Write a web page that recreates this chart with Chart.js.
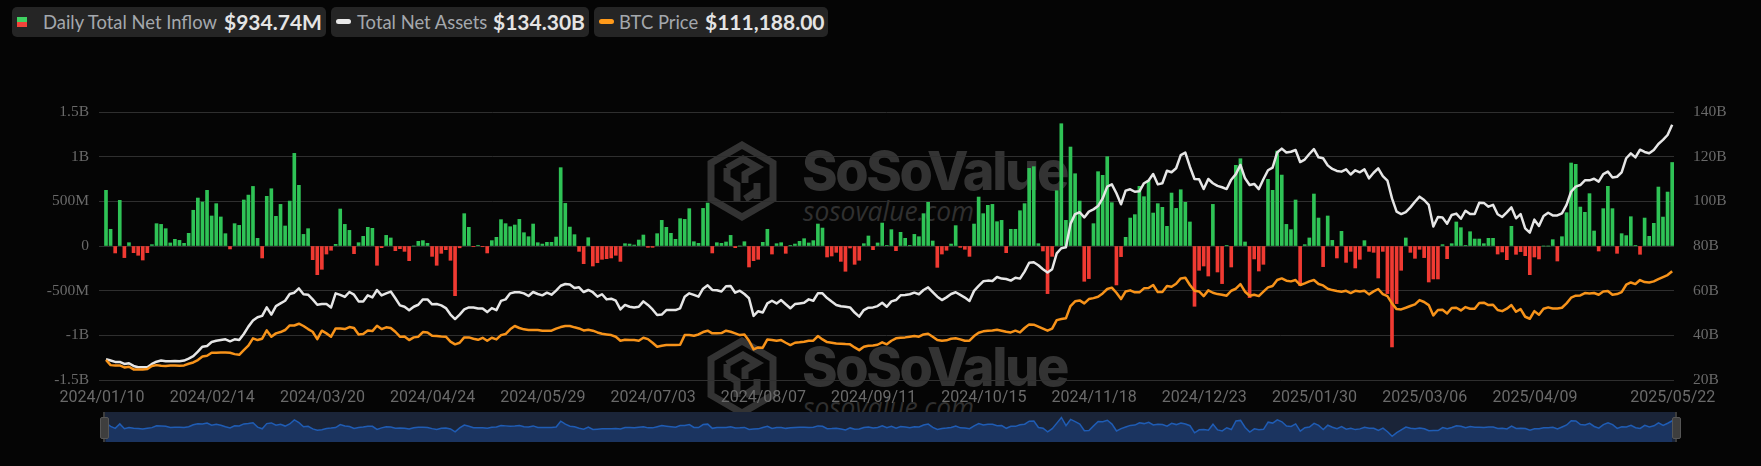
<!DOCTYPE html>
<html>
<head>
<meta charset="utf-8">
<title>Daily Total Net Inflow</title>
<script src="https://cdn.jsdelivr.net/npm/chart.js@4"></script>
<style>
html, body { margin: 0; padding: 0; background: #050505; overflow: hidden; }
#page { position: relative; width: 1761px; height: 466px; }
#main { position: absolute; left: 0; top: 0; z-index: 1; }
#mini { position: absolute; left: 104px; top: 412px; z-index: 2; background: #1a2438; }
.pill { position: absolute; top: 7px; height: 30px; background: #252525; border-radius: 5px; z-index: 3;
  font-family: Lato, sans-serif; font-size: 18.4px; line-height: 30px; color: #a4a8ad; white-space: nowrap; }
.pill span { position: absolute; top: 0; }
.pill b { position: absolute; top: 0; font-size: 21px; font-weight: 700; color: #e4e4e4; }
.dash { position: absolute; top: 12px; width: 15px; height: 5px; border-radius: 3px; }
.mark { position: absolute; z-index: 0; color: #333; left: 0; width: 1100px; height: 100px; }
.mark svg { position: absolute; left: 707px; top: 0; }
.mark .big { position: absolute; left: 802px; top: 0; font: 800 54px Inter, sans-serif; letter-spacing: -2.4px; line-height: 60px; }
.mark .small { position: absolute; left: 803px; top: 55px; font: italic 400 26.4px "Open Sans", sans-serif; line-height: 30px; color: #303030; }
.stem { position: absolute; top: 412px; width: 2px; height: 30px; background: #3c3c3c; z-index: 3; }
.grip { position: absolute; top: 417px; width: 7px; height: 20px; background: #3e3e3e; border: 1px solid #555; border-radius: 2px; z-index: 3; }
</style>
</head>
<body>
<div id="page">
  <div class="mark" style="top:141px">
    <svg width="70" height="80" viewBox="0 0 70 80"><g fill="none" stroke="#333" stroke-width="7"><path d="M35 4 L66 22 V58 L35 76 L4 58 V22 Z"/><path d="M20 27 L36 18 L50 26 L38 33 V42 M20 27 V38 L30 44 V60 M50 42 V58 M38 58 L50 50"/></g></svg>
    <div class="big">SoSoValue</div>
    <div class="small">sosovalue.com</div>
  </div>
  <div class="mark" style="top:337px">
    <svg width="70" height="80" viewBox="0 0 70 80"><g fill="none" stroke="#333" stroke-width="7"><path d="M35 4 L66 22 V58 L35 76 L4 58 V22 Z"/><path d="M20 27 L36 18 L50 26 L38 33 V42 M20 27 V38 L30 44 V60 M50 42 V58 M38 58 L50 50"/></g></svg>
    <div class="big">SoSoValue</div>
    <div class="small">sosovalue.com</div>
  </div>

  <canvas id="main" width="1761" height="466"></canvas>
  <canvas id="mini" width="1572" height="30"></canvas>

  <div class="stem" style="left:103px"></div>
  <div class="grip" style="left:100px"></div>
  <div class="stem" style="left:1675px"></div>
  <div class="grip" style="left:1672px"></div>

  <div class="pill" style="left:12px;width:314px">
    <div style="position:absolute;left:5px;top:10px;width:10px;height:5px;background:#3fd262"></div>
    <div style="position:absolute;left:5px;top:15px;width:10px;height:5px;background:#f2433a"></div>
    <span style="left:31px">Daily Total Net Inflow</span><b style="left:212px">$934.74M</b>
  </div>
  <div class="pill" style="left:331px;width:258px">
    <div class="dash" style="left:5px;background:#e8e8e8"></div>
    <span style="left:26px">Total Net Assets</span><b style="left:162px">$134.30B</b>
  </div>
  <div class="pill" style="left:594px;width:234px">
    <div class="dash" style="left:5px;background:#ff9a1a"></div>
    <span style="left:25px">BTC Price</span><b style="left:111px">$111,188.00</b>
  </div>
</div>

<script>
// Daily net inflow, $M, one per trading day
const netInflow = [
  623, 187, -78, 511, -130, 37, -75, -104, -157, -75, 15, 250, 242, 194, 34, 75, 63, 30, 142, 400,
  537, 492, 623, 336, 474, 325, 138, -33, 250, 231, 515, 570, 667, 86, -134, 556, 641, 332, 466, 224,
  503, 1037, 679, 130, 194, -153, -321, -261, -90, -48, 19, 414, 242, 175, -86, 37, 108, 209, 198, -216,
  -19, 119, 90, -52, -30, -60, -164, 0, 52, 60, 30, -116, -216, -82, -41, -160, -556, -20, 362, 209,
  -8, 8, -8, -78, 60, 97, 295, 250, 216, 235, 298, 149, 104, 246, 37, 22, 41, 41, 100, 877,
  477, 212, 127, -60, -198, 93, -224, -187, -149, -142, -134, -104, -172, 26, 22, 11, 67, 123, -15, -15,
  138, 287, 209, 142, 75, 306, 298, 418, 48, 30, 421, 481, -78, 37, 30, 45, 119, -19, 0, 48,
  -235, -164, -149, 41, 187, -90, 26, 37, -82, 4, 22, 52, 82, 34, 60, 246, 201, -123, -112, -71,
  -172, -283, -22, -205, -160, 26, 112, -41, 34, 257, 7, 183, -52, 153, 86, 4, 130, 104, 362, 489,
  56, -239, -90, -48, 22, 228, -15, -37, -116, 246, 548, 362, 455, 466, 272, 287, -75, 187, 187, 395,
  474, 869, 888, 26, -56, -533, -116, 619, 1369, 287, 1108, 809, 503, -395, -365, 250, 832, 791, 1000, 485,
  -436, -119, 97, 313, 351, 668, 552, 735, 369, 474, 433, 220, 593, 421, 630, 489, 269, -675, -272, -224,
  -336, 466, -291, -421, 4, -235, 903, 977, 45, -578, -145, -280, -205, 746, 623, 1063, 794, 242, 183, 515,
  -444, 15, 90, 582, 313, -231, 336, 63, -134, 164, -183, -60, -246, -149, 60, -60, -71, -358, -60, -533,
  -1130, -645, -272, 90, -71, -138, -37, -130, -403, -369, -369, 15, -142, 26, 269, 205, 7, 160, 78, 78,
  26, 86, 86, -90, -67, -153, 220, -93, -63, -108, -321, -123, -145, 0, 0, 71, -168, 104, 373, 929,
  914, 436, 377, 586, 168, -56, 418, 668, 418, -82, 138, 116, 328, 4, -93, 313, 108, 254, 660, 324,
  604, 934.74
];

// Total net assets, $B
const totalNetAssets = [
  29.3, 28.7, 28.1, 28.1, 27.2, 27.5, 26.3, 25.7, 25.7, 25.7, 27.2, 28.2, 28.7, 28.4, 28.4, 28.5, 28.4, 28.7, 29.6, 30.7,
  32.7, 34.9, 35.2, 37.0, 37.6, 37.9, 38.2, 37.3, 38.2, 37.9, 40.6, 43.9, 46.6, 48.1, 48.7, 52.5, 49.3, 53.1, 54.3, 55.5,
  58.5, 59.1, 61.0, 58.4, 58.2, 56.1, 53.7, 54.0, 54.0, 52.5, 58.8, 58.1, 57.2, 59.4, 58.2, 55.2, 55.2, 57.9, 57.0, 60.3,
  57.9, 58.8, 59.6, 56.6, 53.4, 52.8, 51.2, 52.8, 53.7, 56.1, 56.1, 53.9, 54.0, 53.4, 52.2, 49.3, 47.3, 49.3, 51.6, 52.5,
  52.5, 52.0, 52.0, 50.4, 52.2, 51.3, 55.4, 56.1, 58.8, 59.3, 59.3, 58.8, 57.6, 59.4, 58.5, 57.9, 59.1, 58.2, 60.0, 62.2,
  63.0, 62.8, 61.2, 61.5, 59.4, 60.3, 59.3, 57.3, 58.4, 56.1, 56.4, 55.5, 51.6, 53.6, 52.8, 52.5, 52.8, 55.2, 53.6, 51.6,
  49.1, 49.3, 51.3, 51.3, 51.3, 52.1, 57.3, 58.8, 58.1, 57.3, 60.9, 62.4, 60.3, 60.2, 59.6, 62.0, 62.1, 59.1, 60.0, 58.5,
  56.6, 48.7, 50.8, 50.2, 54.3, 55.5, 54.3, 55.8, 53.9, 52.1, 54.0, 54.3, 54.6, 56.1, 55.5, 58.8, 58.8, 56.7, 55.1, 53.6,
  53.0, 52.8, 52.5, 50.2, 48.4, 51.3, 52.4, 52.5, 53.1, 54.6, 52.8, 55.2, 55.8, 57.9, 58.1, 58.4, 59.1, 58.4, 60.3, 61.5,
  59.4, 57.3, 55.8, 57.0, 58.5, 59.3, 58.1, 56.9, 55.4, 59.9, 62.1, 64.2, 64.5, 64.3, 66.1, 65.4, 65.2, 64.5, 65.8, 65.4,
  68.5, 72.5, 72.7, 71.4, 69.6, 68.1, 69.6, 76.7, 79.0, 79.4, 89.9, 94.3, 95.1, 92.8, 95.4, 96.4, 97.9, 101.3, 106.6, 107.6,
  103.6, 98.7, 104.8, 105.4, 104.3, 104.5, 108.1, 109.3, 112.2, 107.6, 108.1, 113.7, 113.0, 114.8, 120.7, 121.8, 115.5, 110.0, 109.9, 105.5,
  110.0, 108.1, 106.9, 106.3, 105.5, 109.7, 112.2, 116.3, 110.3, 107.3, 107.8, 105.5, 109.9, 113.9, 115.1, 121.9, 123.6, 121.9, 122.2, 123.0,
  117.6, 118.7, 121.2, 123.4, 119.7, 119.3, 116.1, 114.5, 113.6, 113.3, 114.3, 112.0, 113.9, 113.0, 114.3, 110.3, 112.8, 114.8, 111.3, 109.3,
  101.3, 95.4, 94.3, 95.2, 97.3, 99.8, 102.1, 100.6, 98.4, 88.7, 93.0, 92.8, 90.0, 93.9, 94.5, 92.2, 95.8, 94.3, 94.3, 99.4,
  99.3, 97.6, 98.4, 94.2, 93.0, 95.1, 97.3, 92.4, 94.3, 87.9, 86.0, 91.8, 89.0, 93.4, 94.9, 93.7, 93.7, 94.6, 98.4, 104.3,
  106.6, 107.3, 109.4, 109.4, 110.1, 108.8, 112.2, 113.3, 110.7, 111.0, 113.0, 119.3, 121.5, 119.7, 123.1, 122.1, 121.5, 123.0, 125.7, 127.5,
  129.7, 134.3
];

// BTC price, thousand USD
const btcPrice = [
  44.9, 41.1, 40.9, 40.9, 39.4, 39.9, 37.9, 37.9, 37.9, 38.2, 40.4, 41.1, 40.6, 40.4, 40.9, 40.9, 40.6, 40.9, 42.1, 43.1,
  44.9, 47.6, 48.1, 50.3, 50.3, 50.6, 50.6, 50.3, 49.3, 48.8, 52.3, 55.6, 61.1, 59.8, 60.8, 67.0, 62.3, 64.8, 65.8, 67.3,
  70.7, 70.7, 72.0, 70.3, 68.0, 66.0, 60.5, 66.8, 64.8, 62.3, 68.5, 68.5, 68.0, 69.5, 68.8, 64.0, 64.3, 67.0, 66.5, 70.5,
  68.0, 69.3, 68.8, 66.0, 62.3, 62.5, 59.8, 61.8, 62.3, 65.8, 65.5, 63.0, 62.8, 62.5, 62.3, 58.6, 56.6, 57.8, 61.8, 61.8,
  60.8, 60.0, 61.5, 59.3, 61.5, 60.3, 63.5, 64.3, 67.8, 70.3, 68.8, 67.8, 67.3, 67.3, 67.3, 66.8, 66.8, 66.8, 68.3, 69.5,
  70.3, 70.3, 69.3, 68.5, 67.0, 67.5, 66.8, 65.5, 64.5, 64.0, 63.5, 62.3, 59.3, 60.0, 59.8, 59.8, 59.3, 61.5, 60.5, 57.8,
  54.8, 55.6, 56.1, 56.1, 56.1, 56.3, 63.5, 63.5, 63.0, 64.0, 65.8, 66.8, 64.8, 64.8, 65.0, 66.8, 66.0, 64.8, 63.5, 64.0,
  59.3, 52.8, 54.3, 54.1, 60.3, 59.8, 59.3, 59.8, 57.8, 56.1, 57.8, 58.1, 58.6, 59.3, 59.3, 62.8, 60.3, 58.3, 57.8, 57.3,
  57.1, 56.8, 56.6, 54.3, 52.3, 54.8, 55.6, 55.8, 56.3, 58.1, 56.6, 59.3, 61.1, 61.5, 61.8, 62.3, 62.8, 62.3, 64.0, 64.5,
  62.3, 59.8, 59.3, 59.6, 60.8, 61.1, 60.3, 59.3, 59.3, 62.8, 65.3, 66.3, 66.8, 67.0, 67.5, 66.8, 66.0, 65.5, 66.8, 65.5,
  68.8, 71.5, 71.3, 69.8, 68.3, 66.8, 68.3, 74.7, 75.5, 76.0, 85.2, 88.7, 89.4, 87.2, 90.4, 91.1, 92.1, 94.6, 97.9, 98.9,
  95.1, 90.4, 96.1, 96.9, 95.4, 95.4, 98.4, 98.6, 100.9, 95.6, 95.6, 100.1, 99.6, 101.8, 105.8, 106.3, 100.9, 96.6, 96.1, 92.6,
  96.9, 95.1, 94.1, 93.6, 92.9, 96.6, 98.1, 101.6, 95.9, 92.9, 93.6, 92.6, 95.9, 99.1, 100.1, 104.6, 105.8, 104.1, 103.6, 104.6,
  100.9, 102.1, 103.6, 104.6, 101.6, 100.6, 98.1, 97.1, 96.4, 95.9, 96.6, 94.9, 96.6, 96.1, 96.6, 93.9, 96.1, 97.9, 94.1, 92.6,
  87.2, 82.9, 82.7, 83.9, 85.2, 86.4, 89.6, 88.2, 85.9, 78.2, 82.2, 82.4, 79.7, 83.7, 83.9, 81.9, 84.4, 83.2, 83.2, 87.4,
  87.7, 85.9, 86.2, 82.2, 81.4, 83.2, 85.9, 80.9, 82.9, 77.2, 75.7, 81.4, 78.7, 83.2, 84.2, 83.4, 83.4, 83.9, 87.2, 91.4,
  92.9, 93.1, 94.9, 94.6, 94.9, 93.6, 96.1, 96.4, 93.6, 94.1, 95.6, 101.1, 102.8, 101.6, 104.6, 103.1, 102.8, 103.6, 105.3, 106.8,
  108.3, 111.188
];

const tickLabels = ['2024/01/10', '2024/02/14', '2024/03/20', '2024/04/24', '2024/05/29', '2024/07/03', '2024/08/07',
  '2024/09/11', '2024/10/15', '2024/11/18', '2024/12/23', '2025/01/30', '2025/03/06', '2025/04/09', '2025/05/22'];
const tickDays = [0, 24, 48, 72, 96, 120, 144, 168, 192, 216, 240, 264, 288, 312, 342];

const days = netInflow.map((_, i) => i);

function inflowLabel(v) {
  if (v === 0) return '0';
  if (Math.abs(v) >= 1000) return (v / 1000) + 'B';
  return v + 'M';
}

new Chart(document.getElementById('main'), {
  data: {
    labels: days,
    datasets: [
      {
        type: 'line', label: 'Total Net Assets', data: totalNetAssets, yAxisID: 'assets', order: 2,
        borderColor: '#e6e6e6', borderWidth: 2.5, pointRadius: 0, tension: 0, borderJoinStyle: 'round'
      },
      {
        type: 'line', label: 'BTC Price', data: btcPrice, yAxisID: 'btc', order: 1,
        borderColor: '#f7931a', borderWidth: 2.5, pointRadius: 0, tension: 0, borderJoinStyle: 'round'
      },
      {
        type: 'bar', label: 'Daily Total Net Inflow', data: netInflow, yAxisID: 'inflow', order: 3,
        backgroundColor: netInflow.map(v => v >= 0 ? '#2fc356' : '#f03a32'), barThickness: 3
      }
    ]
  },
  options: {
    responsive: false,
    animation: false,
    layout: { padding: { top: 112 } },
    plugins: { legend: { display: false }, tooltip: { enabled: false } },
    scales: {
      x: {
        type: 'linear', min: -1.524, max: 341.4, offset: false,
        grid: { display: false }, border: { display: false },
        afterBuildTicks: scale => { scale.ticks = tickDays.map(value => ({ value })); },
        afterFit: scale => { scale.height = 86; },
        ticks: {
          callback: (v, i) => tickLabels[i], autoSkip: false, maxRotation: 0, padding: 0, labelOffset: -4,
          color: '#6a6a6a', font: { family: 'Roboto', size: 16 }
        }
      },
      inflow: {
        position: 'left', min: -1500, max: 1500,
        afterFit: scale => { scale.width = 99; },
        grid: { color: '#2f2f2f', drawTicks: false }, border: { display: false },
        ticks: { stepSize: 500, callback: inflowLabel, padding: 10, color: '#6a6a6a', font: { family: 'Liberation Serif', size: 15.5 } }
      },
      assets: {
        position: 'right', min: 20, max: 140,
        afterFit: scale => { scale.width = 87; },
        grid: { display: false }, border: { display: false },
        ticks: { stepSize: 20, callback: v => v + 'B', padding: 11, color: '#6a6a6a', font: { family: 'Liberation Serif', size: 15.5 } }
      },
      btc: { display: false, min: 30, max: 230 }
    }
  }
});

// data zoom strip under the chart, shows the net inflow shadow
new Chart(document.getElementById('mini'), {
  type: 'line',
  data: {
    labels: days,
    datasets: [{
      data: netInflow, borderColor: '#1f5cb4', borderWidth: 1.5, pointRadius: 0, tension: 0,
      fill: 'start', backgroundColor: '#1b3460'
    }]
  },
  options: {
    responsive: false,
    animation: false,
    plugins: { legend: { display: false }, tooltip: { enabled: false } },
    scales: {
      x: { type: 'linear', display: false, min: -0.44, max: 341.8 },
      y: { display: false, min: -1900, max: 2100 }
    }
  }
});
</script>
</body>
</html>
